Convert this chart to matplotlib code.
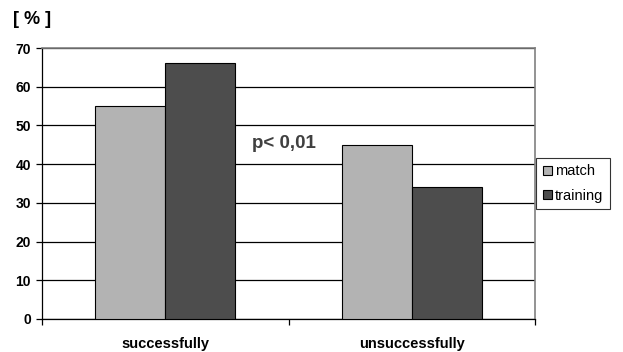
import matplotlib
matplotlib.use("Agg")
import matplotlib.pyplot as plt
import numpy as np

categories = ["successfully", "unsuccessfully"]
series_names = ["match", "training"]
match_vals = [55, 45]
training_vals = [66, 34]
yticks = [0, 10, 20, 30, 40, 50, 60, 70]

plt.rcParams['font.family'] = ['Liberation Sans', 'DejaVu Sans']

fig = plt.figure(figsize=(6.23, 3.52), dpi=100)
ax = fig.add_axes([42/623, 33/352, 493/623, 271/352])

x = np.arange(len(categories))
w = 0.283
ax.bar(x - w/2, match_vals, w, color="#b3b3b3", edgecolor="black", linewidth=0.8,
       label=series_names[0], zorder=3)
ax.bar(x + w/2, training_vals, w, color="#4d4d4d", edgecolor="black", linewidth=0.8,
       label=series_names[1], zorder=3)

ax.set_xlim(-0.5, 1.5)
ax.set_ylim(0, 70)
ax.set_yticks(yticks)
ax.set_yticklabels([str(t) for t in yticks], fontweight="bold", fontsize=10)
ax.yaxis.grid(True, color="black", linewidth=0.9, zorder=0)
ax.tick_params(axis="y", length=4, width=0.9, pad=4)

ax.set_xticks([-0.5, 0.5, 1.5])
ax.set_xticklabels([])
ax.set_xticks(x, minor=True)
ax.set_xticklabels(categories, minor=True, fontweight="bold", fontsize=10.5)
ax.tick_params(axis="x", which="major", length=4, width=0.9, direction="out")
ax.tick_params(axis="x", which="minor", length=0, pad=13)

for s in ["top", "right"]:
    ax.spines[s].set_color("#808080")
    ax.spines[s].set_linewidth(1.2)
for s in ["left", "bottom"]:
    ax.spines[s].set_color("black")
    ax.spines[s].set_linewidth(0.9)

ax.text(0.48, 45.3, "p< 0,01", fontsize=13.5, fontweight="bold", color="#404040",
        ha="center", va="center")

fig.text(13/623, 1 - 20/352, "[ % ]", fontsize=13, fontweight="bold", va="center", ha="left")

leg = ax.legend(loc="center left", bbox_to_anchor=(1.003, 0.50), fontsize=10.5,
                frameon=True, fancybox=False, edgecolor="black", handlelength=0.6,
                handleheight=0.6, handletextpad=0.2, borderpad=0.45, labelspacing=0.7,
                borderaxespad=0)
leg.get_frame().set_linewidth(0.8)

fig.savefig("out.png", dpi=100)
